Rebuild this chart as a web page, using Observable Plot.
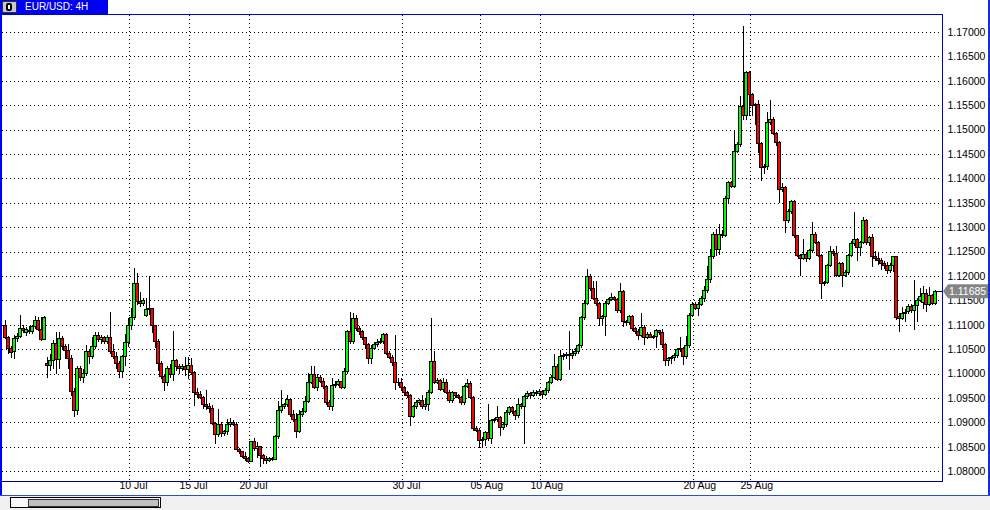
<!DOCTYPE html>
<html><head><meta charset="utf-8">
<script src="https://cdn.jsdelivr.net/npm/d3@7"></script>
<script src="https://cdn.jsdelivr.net/npm/@observablehq/plot@0.6"></script>
<style>
html,body{margin:0;padding:0;background:#fff;}
#wrap{position:relative;width:990px;height:510px;overflow:hidden;font-family:"Liberation Sans",Arial,sans-serif;}
#wrap svg{position:absolute;left:0;top:0;}
.ov{position:absolute;box-sizing:border-box;}
</style></head><body>
<div id="wrap"></div>
<script>
// EUR/USD 4H candles (bar index = position in arrays)
const open = [
1.1098,1.1075,1.1052,1.1045,1.1072,1.1077,1.1093,1.1084,1.1089,1.1086,1.1097,1.1108,1.1091,1.1070,
1.1021,1.1017,1.1027,1.1061,1.1029,1.1072,1.1056,1.1047,1.1031,1.0963,1.0925,1.1011,1.0993,1.1000,1.1045,1.1036,1.1055,1.1079,1.1070,1.1073,1.1066,1.1074,1.1045,1.1036,1.1020,
1.1005,1.1035,1.1063,1.1098,1.1114,1.1184,1.1148,1.1144,1.1120,1.1131,1.1134,1.1098,1.1066,1.1020,1.0995,1.0981,1.1010,1.0998,1.1027,1.1014,1.1010,1.1014,1.1008,
1.1016,1.1003,1.0962,1.0958,1.0952,1.0937,1.0932,1.0928,1.0897,1.0876,1.0896,1.0877,1.0882,1.0896,1.0900,1.0896,1.0845,1.0840,1.0830,
1.0826,1.0820,1.0860,1.0846,1.0850,1.0833,1.0826,1.0822,1.0826,1.0824,1.0871,1.0925,1.0933,1.0936,1.0947,1.0916,1.0905,1.0882,1.0916,1.0923,1.0942,1.0982,1.0999,1.0972,1.0993,1.0984,1.0973,1.0940,
1.0932,1.0976,1.0978,1.0983,1.0971,1.1005,1.1086,1.1066,1.1112,1.1093,1.1086,1.1073,1.1059,1.1030,1.1052,1.1059,1.1064,1.1066,1.1080,1.1042,1.1034,1.1022,1.0982,1.0981,
1.0971,1.0961,1.0955,1.0913,1.0932,1.0940,1.0944,1.0933,1.0936,1.0962,1.1025,1.0982,1.0985,1.0967,1.0981,1.0962,1.0944,1.0961,1.0955,1.0952,1.0940,1.0973,1.0980,1.0952,1.0887,1.0884,
1.0862,1.0865,1.0879,1.0867,1.0903,1.0905,1.0910,1.0889,1.0895,1.0920,1.0930,1.0923,1.0914,1.0937,1.0933,
1.0954,1.0960,1.0956,1.0962,1.0960,1.0963,1.0958,1.0965,
1.0982,1.0993,1.1015,1.0988,1.1035,1.1038,1.1040,1.1038,1.1042,1.1045,1.1057,1.1114,1.1144,1.1200,1.1175,1.1154,1.1143,1.1112,1.1116,1.1144,1.1151,1.1156,1.1152,1.1129,1.1169,1.1107,1.1104,1.1117,1.1093,1.1086,1.1078,1.1095,1.1075,1.1080,1.1075,1.1077,1.1088,1.1085,1.1059,1.1027,1.1030,1.1032,1.1037,1.1049,1.1051,1.1035,1.1057,1.1120,1.1141,
1.1134,1.1141,1.1153,1.1170,1.1192,1.1240,1.1286,1.1255,1.1286,1.1283,1.1359,1.1391,1.1384,1.1456,1.1470,1.1547,1.1528,1.1618,1.1571,1.1549,1.1551,1.1471,1.1422,1.1425,1.1515,1.1521,1.1492,1.1474,1.1377,1.1382,1.1313,1.1333,1.1352,1.1282,1.1243,1.1235,1.1245,1.1235,1.1252,1.1286,1.1269,1.1242,1.1184,1.1187,1.1221,1.1250,1.1247,1.1201,1.1225,1.1202,1.1207,1.1242,1.1267,1.1274,1.1259,1.1269,1.1313,
1.1269,1.1278,1.1240,1.1235,1.1232,1.1225,1.1222,1.1212,1.1222,1.1239,1.1118,1.1112,1.1123,1.1127,1.1138,1.1129,1.1140,1.1150,1.1145,1.1165,1.1142,1.1160,1.1144
];
const high = [
1.1109,1.1078,1.1056,1.1080,1.1084,1.1120,1.1100,1.1095,1.1097,1.1100,1.1118,1.1115,1.1116,1.1118,
1.1034,1.1040,1.1068,1.1086,1.1086,1.1078,1.1060,1.1060,1.1038,1.0970,1.1015,1.1015,1.1010,1.1058,1.1050,1.1075,1.1085,1.1085,1.1080,1.1078,1.1080,1.1126,1.1060,1.1045,1.1025,
1.1039,1.1082,1.1114,1.1134,1.1216,1.1207,1.1168,1.1154,1.1154,1.1199,1.1135,1.1100,1.1071,1.1025,1.1000,1.1015,1.1020,1.1088,1.1030,1.1020,1.1020,1.1035,1.1035,
1.1032,1.1005,1.0970,1.0965,1.0955,1.0967,1.0940,1.0935,1.0900,1.0927,1.0900,1.0885,1.0906,1.0910,1.0905,1.0900,1.0848,1.0842,1.0840,
1.0830,1.0862,1.0869,1.0860,1.0852,1.0836,1.0832,1.0830,1.0830,1.0875,1.0944,1.0967,1.0940,1.0957,1.0948,1.0925,1.0920,1.0925,1.0930,1.0954,1.1001,1.1016,1.1016,1.1000,1.0998,1.0990,1.0976,1.0945,
1.0991,1.0985,1.0988,1.0985,1.1012,1.1090,1.1127,1.1124,1.1120,1.1098,1.1090,1.1076,1.1062,1.1058,1.1065,1.1070,1.1072,1.1083,1.1083,1.1046,1.1038,1.1080,1.0990,1.0991,
1.0975,1.0965,1.0958,1.0935,1.0945,1.0948,1.0957,1.0950,1.0967,1.1114,1.1046,1.0990,1.0988,1.0991,1.0988,1.0966,1.0965,1.0963,1.0958,1.0955,1.0976,1.0988,1.0984,1.0955,1.0892,1.0888,
1.0870,1.0882,1.0937,1.0906,1.0908,1.0933,1.0913,1.0900,1.0925,1.0933,1.0933,1.0926,1.0948,1.0940,1.0957,
1.0965,1.0963,1.0966,1.0966,1.0968,1.0966,1.0970,1.0985,
1.0998,1.1041,1.1020,1.1049,1.1042,1.1045,1.1088,1.1050,1.1052,1.1060,1.1118,1.1150,1.1214,1.1205,1.1190,1.1190,1.1146,1.1120,1.1148,1.1155,1.1165,1.1160,1.1155,1.1186,1.1172,1.1110,1.1120,1.1120,1.1096,1.1092,1.1125,1.1100,1.1085,1.1085,1.1080,1.1092,1.1090,1.1092,1.1062,1.1033,1.1036,1.1042,1.1052,1.1075,1.1055,1.1078,1.1124,1.1146,1.1146,
1.1146,1.1158,1.1180,1.1221,1.1255,1.1290,1.1296,1.1306,1.1295,1.1364,1.1395,1.1395,1.1500,1.1475,1.1569,1.1712,1.1620,1.1620,1.1574,1.1555,1.1561,1.1474,1.1430,1.1537,1.1561,1.1525,1.1495,1.1476,1.1391,1.1385,1.1338,1.1356,1.1356,1.1285,1.1246,1.1276,1.1250,1.1256,1.1310,1.1290,1.1272,1.1245,1.1190,1.1225,1.1262,1.1255,1.1262,1.1228,1.1228,1.1212,1.1245,1.1271,1.1331,1.1278,1.1272,1.1320,1.1316,
1.1282,1.1286,1.1252,1.1249,1.1236,1.1230,1.1228,1.1226,1.1240,1.1240,1.1125,1.1137,1.1133,1.1142,1.1142,1.1191,1.1155,1.1176,1.1179,1.1174,1.1178,1.1164,1.1171
];
const low = [
1.1070,1.1041,1.1031,1.1030,1.1065,1.1073,1.1084,1.1078,1.1082,1.1082,1.1092,1.1088,1.1066,1.1068,
1.0990,1.1005,1.1010,1.1000,1.1010,1.1050,1.1030,1.1010,1.0955,1.0912,1.0915,1.0985,1.0980,1.0995,1.1020,1.1030,1.1050,1.1065,1.1060,1.1060,1.1060,1.1040,1.1030,1.1010,1.0991,
1.0991,1.1015,1.1055,1.1090,1.1110,1.1141,1.1137,1.1138,1.1117,1.1120,1.1083,1.1052,1.1005,1.0988,1.0964,1.0975,1.0990,1.0985,1.1005,1.1000,1.1005,1.0995,1.0988,
1.0998,1.0933,1.0950,1.0947,1.0927,1.0925,1.0920,1.0895,1.0855,1.0870,1.0870,1.0872,1.0875,1.0890,1.0892,1.0844,1.0835,1.0828,1.0820,
1.0816,1.0818,1.0842,1.0828,1.0808,1.0815,1.0815,1.0818,1.0820,1.0822,1.0865,1.0920,1.0928,1.0932,1.0912,1.0900,1.0869,1.0878,1.0912,1.0920,1.0940,1.0978,1.0968,1.0965,1.0980,1.0968,1.0935,1.0925,
1.0923,1.0970,1.0975,1.0968,1.0968,1.1000,1.1060,1.1060,1.1088,1.1080,1.1068,1.1050,1.1020,1.1020,1.1048,1.1055,1.1060,1.1060,1.1038,1.1030,1.1015,1.0967,1.0975,1.0965,
1.0955,1.0950,1.0893,1.0908,1.0928,1.0936,1.0928,1.0925,1.0923,1.0958,1.0978,1.0978,1.0965,1.0962,1.0958,1.0940,1.0940,1.0950,1.0948,1.0935,1.0935,1.0970,1.0948,1.0882,1.0880,1.0848,
1.0848,1.0852,1.0862,1.0855,1.0900,1.0900,1.0872,1.0885,1.0890,1.0915,1.0918,1.0905,1.0910,1.0928,1.0855,
1.0948,1.0950,1.0952,1.0955,1.0955,1.0950,1.0954,1.0960,
1.0978,1.0988,1.0984,1.0984,1.1028,1.1030,1.1008,1.1030,1.1036,1.1040,1.1052,1.1110,1.1140,1.1170,1.1150,1.1138,1.1098,1.1097,1.1078,1.1140,1.1148,1.1148,1.1124,1.1125,1.1095,1.1100,1.1100,1.1088,1.1082,1.1069,1.1074,1.1059,1.1070,1.1072,1.1070,1.1052,1.1080,1.1052,1.1016,1.1016,1.1020,1.1025,1.1032,1.1045,1.1018,1.1030,1.1052,1.1116,1.1130,
1.1119,1.1138,1.1147,1.1165,1.1186,1.1235,1.1242,1.1243,1.1278,1.1280,1.1347,1.1380,1.1380,1.1452,1.1465,1.1520,1.1520,1.1527,1.1527,1.1510,1.1452,1.1394,1.1410,1.1418,1.1510,1.1488,1.1466,1.1350,1.1372,1.1289,1.1308,1.1328,1.1278,1.1238,1.1201,1.1232,1.1228,1.1232,1.1248,1.1265,1.1238,1.1153,1.1180,1.1183,1.1218,1.1240,1.1198,1.1197,1.1177,1.1198,1.1203,1.1238,1.1262,1.1231,1.1242,1.1265,1.1263,
1.1262,1.1218,1.1230,1.1222,1.1212,1.1215,1.1205,1.1206,1.1208,1.1109,1.1086,1.1110,1.1106,1.1122,1.1125,1.1089,1.1106,1.1146,1.1132,1.1127,1.1138,1.1140,1.1140
];
const close = [
1.1075,1.1052,1.1043,1.1072,1.1077,1.1093,1.1089,1.1090,1.1086,1.1097,1.1108,1.1091,1.1070,1.1115,
1.1017,1.1027,1.1061,1.1029,1.1072,1.1056,1.1047,1.1031,1.0963,1.0925,1.1011,1.0993,1.1000,1.1045,1.1036,1.1055,1.1079,1.1070,1.1073,1.1066,1.1074,1.1045,1.1036,1.1020,1.1004,
1.1035,1.1063,1.1098,1.1114,1.1184,1.1148,1.1144,1.1150,1.1131,1.1134,1.1098,1.1066,1.1020,1.0995,1.0981,1.1010,1.0998,1.1027,1.1014,1.1010,1.1014,1.1008,1.1016,
1.1003,1.0962,1.0958,1.0952,1.0937,1.0932,1.0928,1.0897,1.0876,1.0896,1.0877,1.0882,1.0896,1.0900,1.0896,1.0845,1.0840,1.0830,1.0826,
1.0820,1.0860,1.0846,1.0850,1.0833,1.0826,1.0822,1.0826,1.0824,1.0871,1.0925,1.0933,1.0936,1.0947,1.0916,1.0905,1.0882,1.0916,1.0923,1.0942,1.0982,1.0999,1.0972,1.0993,1.0984,1.0973,1.0940,1.0932,
1.0976,1.0978,1.0983,1.0971,1.1005,1.1086,1.1066,1.1112,1.1093,1.1086,1.1073,1.1059,1.1030,1.1052,1.1059,1.1064,1.1066,1.1080,1.1042,1.1034,1.1022,1.0982,1.0981,1.0971,
1.0961,1.0955,1.0913,1.0932,1.0940,1.0944,1.0933,1.0936,1.0962,1.1025,1.0982,1.0985,1.0967,1.0981,1.0962,1.0944,1.0961,1.0955,1.0952,1.0940,1.0973,1.0980,1.0952,1.0887,1.0884,1.0862,
1.0865,1.0879,1.0867,1.0903,1.0905,1.0910,1.0889,1.0895,1.0920,1.0930,1.0923,1.0914,1.0937,1.0933,1.0954,
1.0960,1.0956,1.0962,1.0960,1.0963,1.0958,1.0965,1.0982,
1.0993,1.1015,1.0988,1.1035,1.1038,1.1040,1.1038,1.1042,1.1045,1.1057,1.1114,1.1144,1.1200,1.1175,1.1154,1.1143,1.1112,1.1116,1.1144,1.1151,1.1156,1.1152,1.1129,1.1169,1.1107,1.1104,1.1117,1.1093,1.1086,1.1078,1.1095,1.1075,1.1080,1.1075,1.1077,1.1088,1.1085,1.1059,1.1027,1.1030,1.1032,1.1037,1.1049,1.1051,1.1035,1.1057,1.1120,1.1141,1.1134,
1.1141,1.1153,1.1170,1.1192,1.1240,1.1286,1.1255,1.1286,1.1283,1.1359,1.1391,1.1384,1.1456,1.1470,1.1547,1.1528,1.1618,1.1571,1.1549,1.1551,1.1471,1.1422,1.1425,1.1515,1.1521,1.1492,1.1474,1.1377,1.1382,1.1313,1.1333,1.1352,1.1282,1.1243,1.1235,1.1245,1.1235,1.1252,1.1286,1.1269,1.1242,1.1184,1.1187,1.1221,1.1250,1.1247,1.1201,1.1225,1.1202,1.1207,1.1242,1.1267,1.1274,1.1259,1.1269,1.1313,1.1269,
1.1278,1.1240,1.1235,1.1232,1.1225,1.1222,1.1212,1.1222,1.1239,1.1115,1.1112,1.1123,1.1125,1.1138,1.1129,1.1140,1.1150,1.1157,1.1165,1.1142,1.1160,1.1144,1.11685
];
const priceTicks = [1.080,1.085,1.090,1.095,1.100,1.105,1.110,1.115,1.120,1.125,1.130,1.135,1.140,1.145,1.150,1.155,1.160,1.165,1.170];
const dateLabels = ["10 Jul","15 Jul","20 Jul","30 Jul","05 Aug","10 Aug","20 Aug","25 Aug"];
const dateBars = [41,61,81,132,158,178,229,248];
const title = "EUR/USD: 4H";

const lens = [open.length, high.length, low.length, close.length];
if (new Set(lens).size > 1) throw new Error("length mismatch " + lens.join(","));

const bars = open.map((o, i) => ({
  i, o, c: close[i],
  h: Math.max(high[i], o, close[i]),
  l: Math.min(low[i], o, close[i]),
  up: close[i] >= o
}));
const last = bars[bars.length - 1];
const fmt = d3.format(".5f");

const chart = Plot.plot({
  width: 990, height: 510,
  marginLeft: 2, marginRight: 48, marginTop: 15, marginBottom: 29,
  style: {background: "transparent", fontFamily: "'Liberation Sans', Arial, sans-serif", fontSize: "10.5px", color: "#000", overflow: "visible"},
  x: {domain: [-1, 312 + 1/3], axis: null},
  y: {domain: [1.077992, 1.173484], axis: null},
  marks: [
    Plot.ruleY(priceTicks, {y: d => d, stroke: "#000", strokeDasharray: "1,3", shapeRendering: "crispEdges"}),
    Plot.ruleX(dateBars, {x: d => d, stroke: "#000", strokeDasharray: "1,3", dx: 0.5, shapeRendering: "crispEdges"}),
    Plot.ruleX(bars, {x: "i", y1: "l", y2: "h", stroke: "#000", dx: -0.5, shapeRendering: "crispEdges"}),
    Plot.rect(bars, {x1: d => d.i - 0.5, x2: d => d.i + 0.5, y1: "o", y2: "c",
      fill: d => d.up ? "#00ff00" : "#ff0000", stroke: "#000", strokeWidth: 1, shapeRendering: "crispEdges"}),
    Plot.ruleY([last.c], {x1: last.i, x2: 312.3, stroke: "#000", shapeRendering: "crispEdges"}),
    Plot.text(priceTicks, {y: d => d, text: d => fmt(d), frameAnchor: "right", dx: 5, textAnchor: "start", fill: "#000"}),
    Plot.text(dateBars, {x: d => d, text: (d, i) => dateLabels[i], frameAnchor: "bottom", dy: 7, dx: -9, textAnchor: "start", fill: "#000"})
  ]
});

const wrap = document.getElementById("wrap");
wrap.appendChild(chart);

// current price tag drawn with the chart's own y scale
const yPix = chart.scale("y").apply(last.c);
const svg = d3.select(chart);
const tag = svg.append("g");
tag.append("polygon")
  .attr("points", [[943, yPix], [948, yPix - 7], [988, yPix - 7], [988, yPix + 7], [948, yPix + 7]].map(p => p.join(",")).join(" "))
  .attr("fill", "#858585");
tag.append("text").attr("x", 949).attr("y", yPix).attr("dy", "0.35em")
  .attr("text-anchor", "start")
  .attr("fill", "#fff").style("font", "10.5px 'Liberation Sans', Arial, sans-serif").text(fmt(last.c));

function ov(style, html) {
  const d = document.createElement("div");
  d.className = "ov";
  Object.assign(d.style, style);
  if (html) d.innerHTML = html;
  wrap.appendChild(d);
  return d;
}
// window / frame decorations
ov({left: "0px", top: "0px", width: "108px", height: "14px", background: "#0000f0"});
ov({left: "2px", top: "1px", width: "15px", height: "12px", background: "#c8c8c8", border: "1px solid #303030"});
ov({left: "6px", top: "3px", width: "6px", height: "8px", background: "#fff", border: "2px solid #000", borderRadius: "2px"});
const t = ov({left: "25px", top: "0px", height: "14px", color: "#fff", font: "10px 'Liberation Sans', Arial, sans-serif", lineHeight: "14px", whiteSpace: "nowrap"});
t.textContent = title;
ov({left: "0px", top: "14px", width: "943px", height: "1px", background: "#0000e0"});
ov({left: "942px", top: "14px", width: "1px", height: "468px", background: "#0000c0"});
ov({left: "0px", top: "481px", width: "943px", height: "1px", background: "#000090"});
ov({left: "0px", top: "0px", width: "2px", height: "495px", background: "#0000ff"});
ov({left: "988px", top: "0px", width: "2px", height: "495px", background: "#1030d0"});
ov({left: "0px", top: "495px", width: "990px", height: "1px", background: "#2a55b8"});
ov({left: "0px", top: "496px", width: "990px", height: "14px", background: "#f0f0f0"});
ov({left: "10px", top: "497px", width: "151px", height: "11px", background: "#f8f8f8", border: "1px solid #000"});
ov({left: "28px", top: "499px", width: "131px", height: "8px", background: "#c0c0c0", border: "1px solid #303030"});
</script>
</body></html>
